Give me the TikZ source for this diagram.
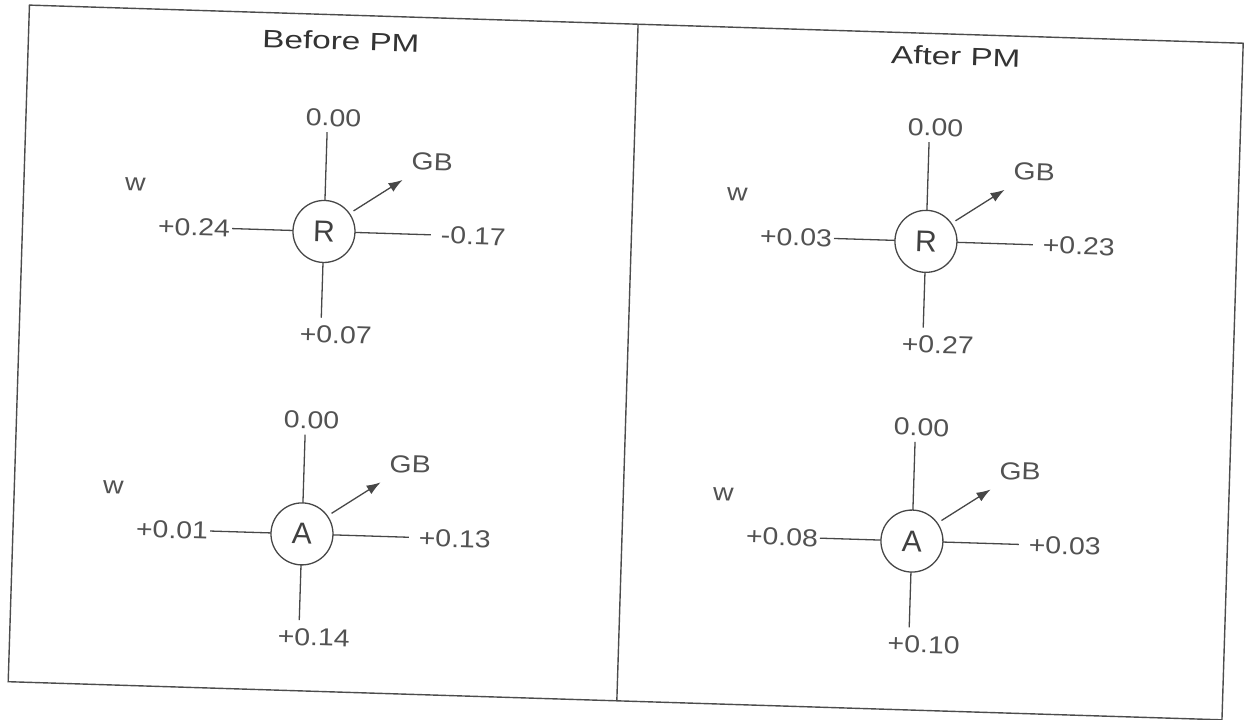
\documentclass[tikz,border=0pt]{standalone}
\usepackage{fontspec}
\setmainfont{Liberation Sans}
\usepackage{graphicx}
\usetikzlibrary{arrows.meta}

% wide sans lettering for numbers and headings
\newcommand\numtext[1]{\scalebox{1.16}[1]{#1}}
\newcommand\headtext[1]{\scalebox{1.33}[1]{#1}}

\tikzset{
  ink/.style={draw=black!72, line width=1.3pt},
  frameline/.style={draw=black!70, line width=1.4pt},
  hub/.style={circle, ink, minimum size=62pt, inner sep=0pt, outer sep=0pt,
    text=black!75, font=\fontsize{30}{34}\selectfont},
  lbl/.style={inner sep=0pt, text=black!68, font=\fontsize{24.5}{28}\selectfont},
  lbltop/.style={lbl, outer sep=6pt},
  lblbot/.style={lbl, outer sep=8pt},
  lblleft/.style={lbl, anchor=east, outer sep=2pt},
  lblright/.style={lbl, anchor=west, outer sep=10pt},
  heading/.style={inner sep=0pt, text=black!80, font=\fontsize{25}{29}\selectfont},
  gbarrow/.style={ink, -{Latex[length=14pt,width=10pt]}, shorten <=5pt},
}

% one node with its four weights and the GB output
% #1 name, #2 x, #3 y, #4 letter, #5 top, #6 left, #7 right, #8 bottom
\newcommand\gbpanel[8]{%
  \begin{scope}[shift={(#2,#3)}]
    \node[hub] (#1) at (0,0) {#4};
    \node[lbltop] (#1-t) at (6,-114) {\numtext{#5}};
    \node[lblleft] (#1-l) at (-92,0) {\numtext{#6}};
    \node[lblright] (#1-r) at (107,0) {\numtext{#7}};
    \node[lblbot] (#1-b) at (15,103) {\numtext{#8}};
    \node[lbl] (#1-w) at (-190,-41) {\numtext{w}};
    \node[lbl] (#1-g) at (106,-73) {\numtext{GB}};
    \coordinate (#1-tip) at (77,-54);
    \draw[ink] (#1.north) -- (#1.north |- #1-t.south);
    \draw[ink] (#1.south) -- (#1.south |- #1-b.north);
    \draw[ink] (#1-l.east) -- (#1.west);
    \draw[ink] (#1.east) -- (#1-r.west);
    \draw[gbarrow] (#1.37) -- (#1-tip);
  \end{scope}}

\begin{document}
\begin{tikzpicture}[x=1pt, y=-1pt]
  \useasboundingbox (0,0) rectangle (1250,720);
  \begin{scope}[rotate around={-1.8:(626,362.5)}, transform shape]
    % outer frame and the divider between the two halves
    \coordinate (tl) at (18.5,24);
    \coordinate (br) at (1233,701);
    \coordinate (mt) at (627.5,24);
    \coordinate (mb) at (627.5,701);
    \draw[frameline] (tl) rectangle (br);
    \draw[frameline] (mt) -- (mb);

    \node[heading] (before) at (331,50) {\headtext{Before PM}};
    \node[heading] (after) at (946,46) {\headtext{After PM}};

    \gbpanel{r1}{320}{241}{R}{0.00}{+0.24}{-0.17}{+0.07}
    \gbpanel{a1}{307.5}{544}{A}{0.00}{+0.01}{+0.13}{+0.14}
    \gbpanel{r2}{922}{232}{R}{0.00}{+0.03}{+0.23}{+0.27}
    \gbpanel{a2}{917.4}{532}{A}{0.00}{+0.08}{+0.03}{+0.10}
  \end{scope}
\end{tikzpicture}
\end{document}
